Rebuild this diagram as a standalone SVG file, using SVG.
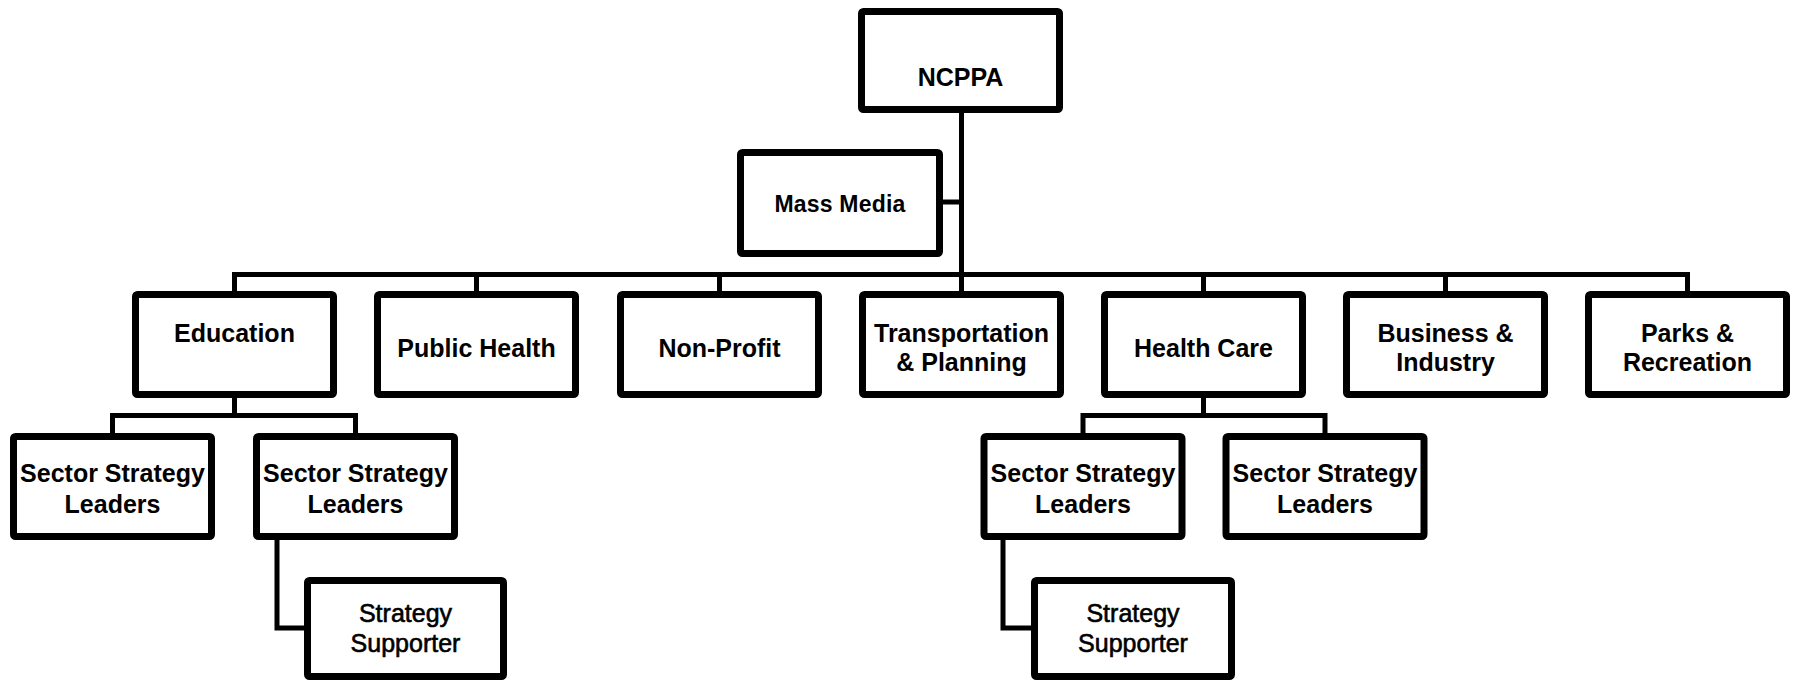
<svg xmlns="http://www.w3.org/2000/svg" width="1793" height="680" viewBox="0 0 1793 680">
<style>
.box{fill:#fff;stroke:#000;stroke-width:7;}
.t{font-family:"Liberation Sans",Arial,sans-serif;font-weight:bold;font-size:25px;fill:#000;text-anchor:middle;}
.s{font-family:"Liberation Sans",Arial,sans-serif;font-weight:normal;font-size:25px;fill:#000;stroke:#000;stroke-width:0.6;text-anchor:middle;}
.c{fill:none;stroke:#000;stroke-width:5;stroke-linejoin:miter;}
</style>
<rect width="1793" height="680" fill="#fff"/>
<g id="connectors">
<path class="c" d="M961.5 113 V292"/>
<path class="c" d="M943 202 H961.5"/>
<path class="c" d="M234.5 292 V274.5 H1687.5 V292"/>
<path class="c" d="M476.5 274.5 V292"/>
<path class="c" d="M719.5 274.5 V292"/>
<path class="c" d="M1203.5 274.5 V292"/>
<path class="c" d="M1445.5 274.5 V292"/>
<path class="c" d="M234.5 398 V415.5"/>
<path class="c" d="M112.5 433 V415.5 H355.5 V433"/>
<path class="c" d="M1203.5 398 V415.5"/>
<path class="c" d="M1083 433 V415.5 H1325 V433"/>
<path class="c" d="M277 540 V628 H304"/>
<path class="c" d="M1003 540 V628 H1031"/>
</g>
<g id="ncppa"><rect class="box" x="861.5" y="11.5" width="198" height="98" rx="2"/><text class="t" x="960.5" y="86" font-size="26">NCPPA</text></g>
<g id="mass-media"><rect class="box" x="740.5" y="152.5" width="199" height="101" rx="2"/><text class="t" x="840" y="212" style="font-size:23px;letter-spacing:0.2px">Mass Media</text></g>
<g id="education"><rect class="box" x="135.5" y="294.5" width="198" height="100" rx="2"/><text class="t" x="234.5" y="342">Education</text></g>
<g id="public-health"><rect class="box" x="377.5" y="294.5" width="198" height="100" rx="2"/><text class="t" x="476.5" y="357">Public Health</text></g>
<g id="non-profit"><rect class="box" x="620.5" y="294.5" width="198" height="100" rx="2"/><text class="t" x="719.5" y="357">Non-Profit</text></g>
<g id="transportation"><rect class="box" x="862.5" y="294.5" width="198" height="100" rx="2"/><text class="t" x="961.5" y="342">Transportation</text><text class="t" x="961.5" y="371">&amp; Planning</text></g>
<g id="health-care"><rect class="box" x="1104.5" y="294.5" width="198" height="100" rx="2"/><text class="t" x="1203.5" y="357">Health Care</text></g>
<g id="business"><rect class="box" x="1346.5" y="294.5" width="198" height="100" rx="2"/><text class="t" x="1445.5" y="342">Business &amp;</text><text class="t" x="1445.5" y="371">Industry</text></g>
<g id="parks"><rect class="box" x="1588.5" y="294.5" width="198" height="100" rx="2"/><text class="t" x="1687.5" y="342">Parks &amp;</text><text class="t" x="1687.5" y="371">Recreation</text></g>
<g id="ssl-edu-1"><rect class="box" x="13.5" y="436.5" width="198" height="100" rx="2"/><text class="t" x="112.5" y="482">Sector Strategy</text><text class="t" x="112.5" y="513">Leaders</text></g>
<g id="ssl-edu-2"><rect class="box" x="256.5" y="436.5" width="198" height="100" rx="2"/><text class="t" x="355.5" y="482">Sector Strategy</text><text class="t" x="355.5" y="513">Leaders</text></g>
<g id="ssl-hc-1"><rect class="box" x="984" y="436.5" width="198" height="100" rx="2"/><text class="t" x="1083" y="482">Sector Strategy</text><text class="t" x="1083" y="513">Leaders</text></g>
<g id="ssl-hc-2"><rect class="box" x="1226" y="436.5" width="198" height="100" rx="2"/><text class="t" x="1325" y="482">Sector Strategy</text><text class="t" x="1325" y="513">Leaders</text></g>
<g id="supporter-edu"><rect class="box" x="307.5" y="580.5" width="196" height="96" rx="2"/><text class="s" x="405.5" y="622">Strategy</text><text class="s" x="405.5" y="652">Supporter</text></g>
<g id="supporter-hc"><rect class="box" x="1034.5" y="580.5" width="197" height="96" rx="2"/><text class="s" x="1133" y="622">Strategy</text><text class="s" x="1133" y="652">Supporter</text></g>
</svg>
